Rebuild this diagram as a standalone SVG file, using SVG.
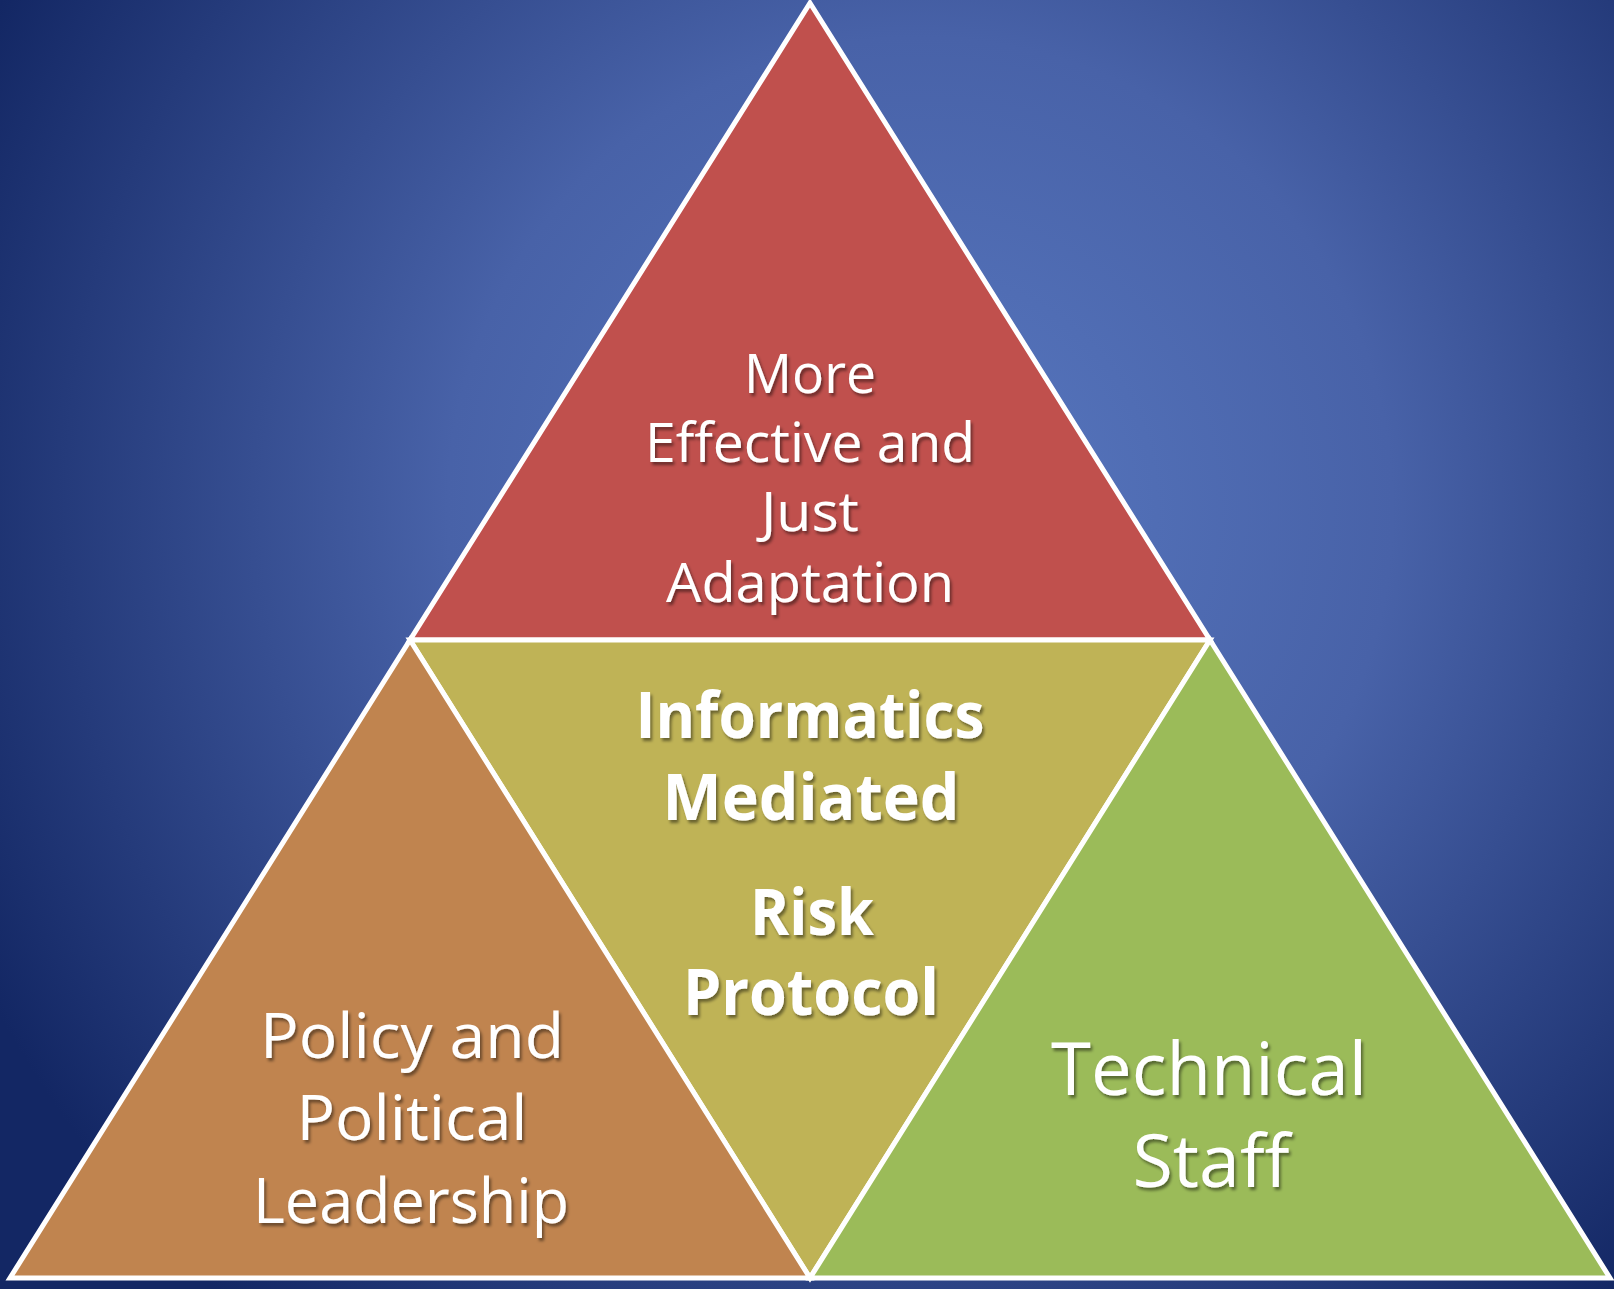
<svg xmlns="http://www.w3.org/2000/svg" width="1614" height="1289" viewBox="0 0 1614 1289">
<defs>
<radialGradient id="bg" gradientUnits="userSpaceOnUse" cx="920" cy="510" r="1050">
<stop offset="0" stop-color="#5878c0"/>
<stop offset="0.45" stop-color="#4862a8"/>
<stop offset="1" stop-color="#132764"/>
</radialGradient>
<filter id="sh" x="-10%" y="-10%" width="120%" height="130%">
<feDropShadow dx="2" dy="3" stdDeviation="1.6" flood-color="#000" flood-opacity="0.45"/>
</filter>
</defs>
<style>
.tri{stroke:#fff;stroke-width:5;stroke-linejoin:miter}
.t{font-family:"Open Sans","Liberation Sans",sans-serif;fill:#fff;text-anchor:middle;filter:url(#sh)}
.b{font-weight:bold}
</style>
<rect width="1614" height="1289" fill="url(#bg)"/>
<g id="top">
<polygon class="tri" points="810,3 1210,640 410,640" fill="#c0504d"/>
<text class="t" font-size="55" x="810" y="393" textLength="132" lengthAdjust="spacingAndGlyphs">More</text>
<text class="t" font-size="55" x="810" y="462" textLength="330" lengthAdjust="spacingAndGlyphs">Effective and</text>
<text class="t" font-size="55" x="810" y="531" textLength="98" lengthAdjust="spacingAndGlyphs">Just</text>
<text class="t" font-size="55" x="810" y="602" textLength="288" lengthAdjust="spacingAndGlyphs">Adaptation</text>
</g>
<g id="center">
<polygon class="tri" points="410,640 1210,640 810,1278" fill="#bfb356"/>
<text class="t b" font-size="65" x="810" y="738" textLength="349" lengthAdjust="spacingAndGlyphs">Informatics</text>
<text class="t b" font-size="65" x="811" y="820" textLength="297" lengthAdjust="spacingAndGlyphs">Mediated</text>
<text class="t b" font-size="65" x="812" y="935" textLength="124" lengthAdjust="spacingAndGlyphs">Risk</text>
<text class="t b" font-size="65" x="811" y="1015" textLength="256" lengthAdjust="spacingAndGlyphs">Protocol</text>
</g>
<g id="left">
<polygon class="tri" points="410,640 810,1278 10,1278" fill="#c0844f"/>
<text class="t" font-size="63" x="412" y="1058" textLength="304" lengthAdjust="spacingAndGlyphs">Policy and</text>
<text class="t" font-size="63" x="412" y="1140" textLength="231" lengthAdjust="spacingAndGlyphs">Political</text>
<text class="t" font-size="63" x="411" y="1223" textLength="316" lengthAdjust="spacingAndGlyphs">Leadership</text>
</g>
<g id="right">
<polygon class="tri" points="1210,640 1610,1278 810,1278" fill="#9bbb59"/>
<text class="t" font-size="73" x="1209" y="1095" textLength="316" lengthAdjust="spacingAndGlyphs">Technical</text>
<text class="t" font-size="73" x="1211" y="1187" textLength="157" lengthAdjust="spacingAndGlyphs">Staff</text>
</g>
<g id="connectors"/>
</svg>
